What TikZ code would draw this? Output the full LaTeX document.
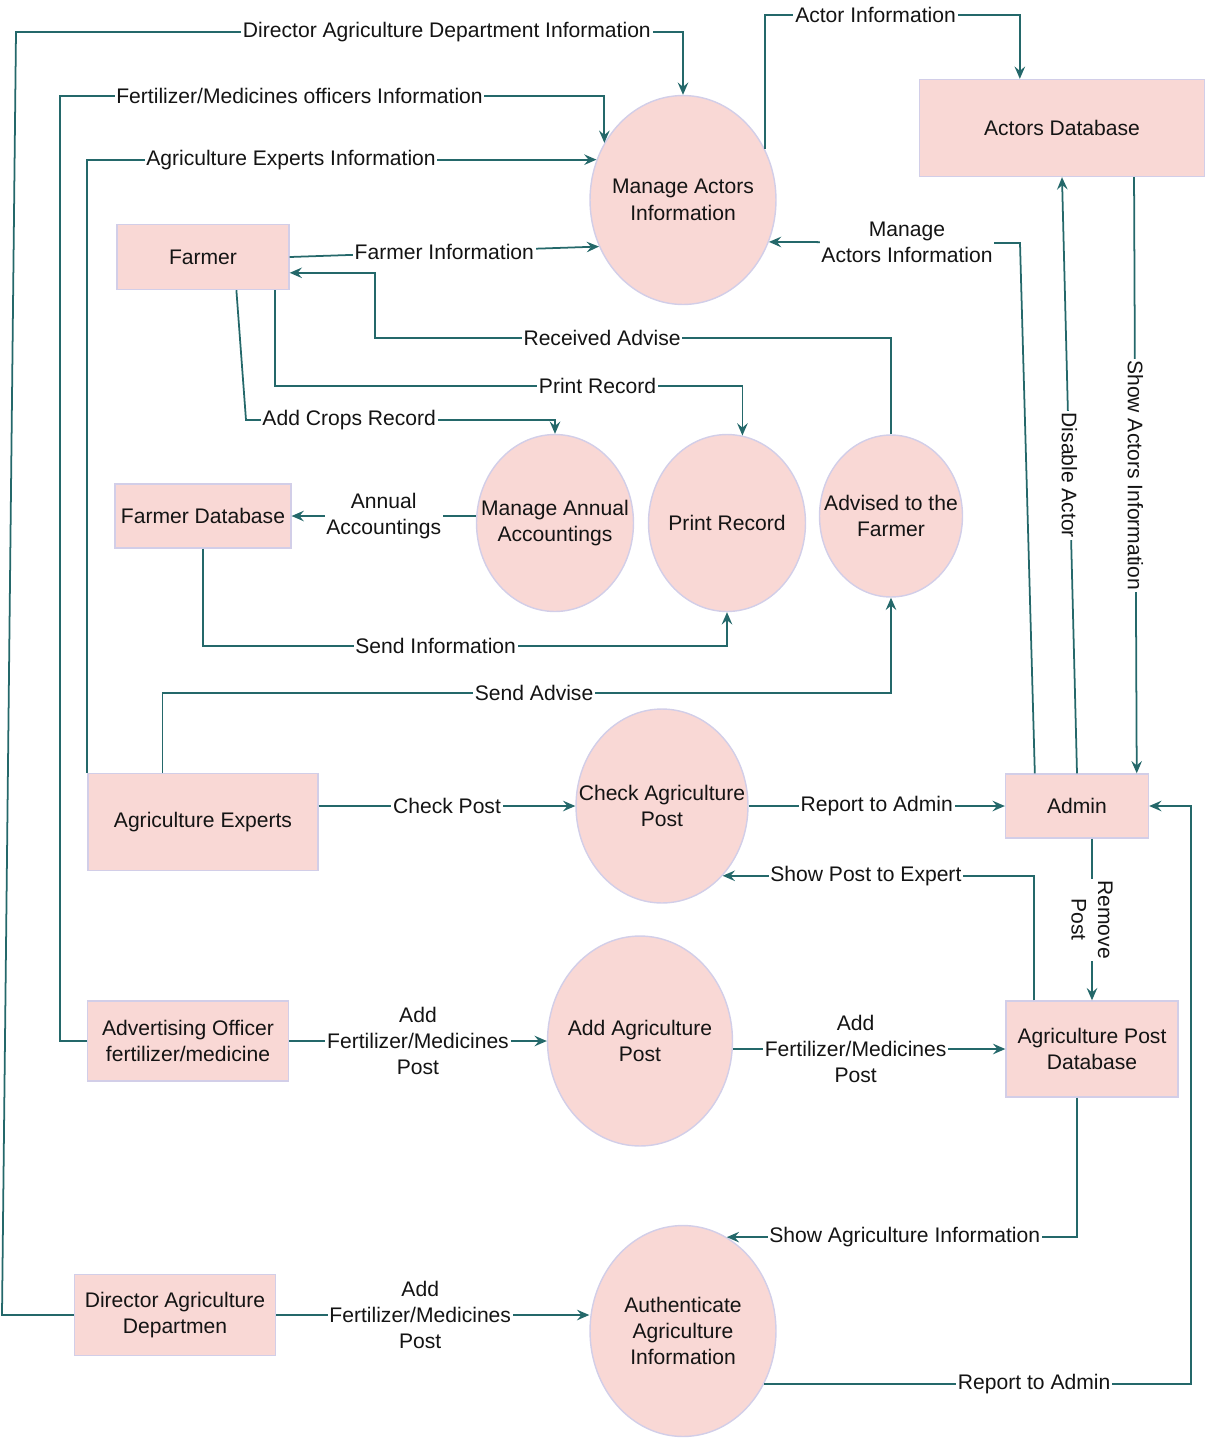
\documentclass[tikz,border=0pt]{standalone}
\usepackage{fontspec}
\setmainfont{Liberation Sans}
\usetikzlibrary{shapes.geometric,arrows.meta}
\definecolor{boxfill}{RGB}{249,216,213}
\definecolor{boxline}{RGB}{210,206,232}
\definecolor{flowline}{RGB}{36,104,106}
\definecolor{txt}{RGB}{20,20,20}
\newcommand\diagfont{\fontsize{12}{15}\selectfont}
\tikzset{
  ent/.style={rectangle, draw=boxline, fill=boxfill, line width=0.8pt, align=center, text=txt, font=\diagfont},
  proc/.style={ellipse, draw=boxline, fill=boxfill, line width=0.8pt, inner sep=0pt},
  ptext/.style={align=center, text=txt, font=\diagfont},
  flow/.style={draw=flowline, line width=1pt, -{Stealth[length=7pt,width=6pt,inset=2.5pt]}},
  lbl/.style={fill=white, inner sep=1pt, align=center, text=txt, font=\diagfont},
}
\begin{document}
\begin{tikzpicture}[x=0.02cm,y=-0.02cm]
      \useasboundingbox (0,0) rectangle (1205,1438);
      \draw
        (203,257) node[ent, minimum width=3.44cm, minimum height=1.3cm] (farmer){Farmer}
        (203,516) node[ent, minimum width=3.44cm, minimum height=1.28cm] (fdb){Farmer Database}
        (203,822) node[ent, minimum width=4.6cm, minimum height=1.94cm] (aex){Agriculture Experts}
        (188,1041) node[ent, minimum width=4.02cm, minimum height=1.6cm] (aof){Advertising Officer\\fertilizer/medicine}
        (175,1315) node[ent, minimum width=4.02cm, minimum height=1.62cm] (dir){Director Agriculture\\Departmen}
        (1062,128) node[ent, minimum width=5.7cm, minimum height=1.94cm] (adb){Actors Database}
        (1077,806) node[ent, minimum width=2.86cm, minimum height=1.28cm] (adm){Admin}
        (1092,1049) node[ent, minimum width=3.44cm, minimum height=1.92cm] (apd){Agriculture Post\\Database};
      \draw
        (683,200) node[proc, minimum width=3.72cm, minimum height=4.18cm, label={[ptext]center:Manage Actors\\Information}] (mai){}
        (555,523) node[proc, minimum width=3.14cm, minimum height=3.54cm, label={[ptext]center:Manage Annual\\Accountings}] (mac){}
        (727,523) node[proc, minimum width=3.14cm, minimum height=3.54cm, label={[ptext]center:Print Record}] (prt){}
        (891,516) node[proc, minimum width=2.86cm, minimum height=3.24cm, label={[ptext]center:Advised to the\\Farmer}] (adv){}
        (662,806) node[proc, minimum width=3.44cm, minimum height=3.88cm, label={[ptext]center:Check Agriculture\\Post}] (chk){}
        (640,1041) node[proc, minimum width=3.7cm, minimum height=4.2cm, label={[ptext]center:Add Agriculture\\Post}] (aap){}
        (683,1331) node[proc, minimum width=3.72cm, minimum height=4.22cm, label={[ptext]center:Authenticate\\Agriculture\\Information}] (aut){};
      \begin{scope}[flow]
        \draw (dir.west) -- (2,1315) -- (16,32) -- node[lbl,pos=0.646]{Director Agriculture Department Information} (683,32) -- (mai.north);
        \draw (aof.west) -| (60,96) -| node[lbl,pos=0.22]{Fertilizer/Medicines officers Information} (mai.144);
        \draw (aex.north west) |- node[lbl,pos=0.7]{Agriculture Experts Information} (mai.155);
        \draw (farmer.east) -- node[lbl]{Farmer Information} (mai.209);
        \draw (adv.north) |- node[lbl,pos=0.78]{Received Advise} (375,338) |- ([yshift=-9pt]farmer.east);
        \draw ([xshift=41pt]farmer.south) -- ++(0,96) -| node[lbl,pos=0.345]{Print Record} (prt.80);
        \draw ([xshift=19pt]farmer.south) -- (246,420) -| node[lbl,pos=0.167]{Add Crops Record} (mac.north);
        \draw (mac.west |- fdb.east) -- node[lbl]{Annual\\Accountings} (fdb.east);
        \draw (fdb.south) -- ++(0,97) -| node[lbl,pos=0.222]{Send Information} (prt.south);
        \draw ([xshift=-23pt]aex.north) -- ++(0,-80) -| node[lbl,pos=0.255]{Send Advise} (adv.south);
        \draw (aex.east |- chk.west) -- node[lbl]{Check Post} (chk.west);
        \draw (chk.east) -- node[lbl]{Report to Admin} (adm.west);
        \draw ([xshift=-33pt]apd.north) |- node[lbl,pos=0.77]{Show Post to Expert} (chk.-49);
        \draw (adm.south -| apd.north) -- node[lbl,rotate=-90]{Remove\\Post} (apd.north);
        \draw (aof.east) -- node[lbl]{Add\\Fertilizer/Medicines\\Post} (aap.west);
        \draw (aap.east |- apd.west) -- node[lbl,pos=0.45]{Add\\Fertilizer/Medicines\\Post} (apd.west);
        \draw ([xshift=-8.5pt]apd.south) |- node[lbl,pos=0.746]{Show Agriculture Information} (aut.65);
        \draw (dir.east) -- node[lbl,pos=0.46]{Add\\Fertilizer/Medicines\\Post} (aut.west |- dir.east);
        \draw (aut.-33) -- node[lbl,pos=0.632]{Report to Admin} ++(427,0) |- (adm.east);
        \draw (mai.32) -- ++(0,-134) -| node[lbl,pos=0.217]{Actor Information} ([xshift=-24pt]adb.north);
        \draw ([xshift=-24pt]adm.north) -- (1020,243) -- node[lbl,pos=0.45]{Manage\\Actors Information} (mai.-26);
        \draw (adm.north) -- node[lbl,rotate=-90]{Disable Actor} (adb.south);
        \draw ([xshift=41pt]adb.south) -- node[lbl,rotate=-90]{Show Actors Information} ([xshift=34pt]adm.north);
      \end{scope}
    \end{tikzpicture}
\end{document}
